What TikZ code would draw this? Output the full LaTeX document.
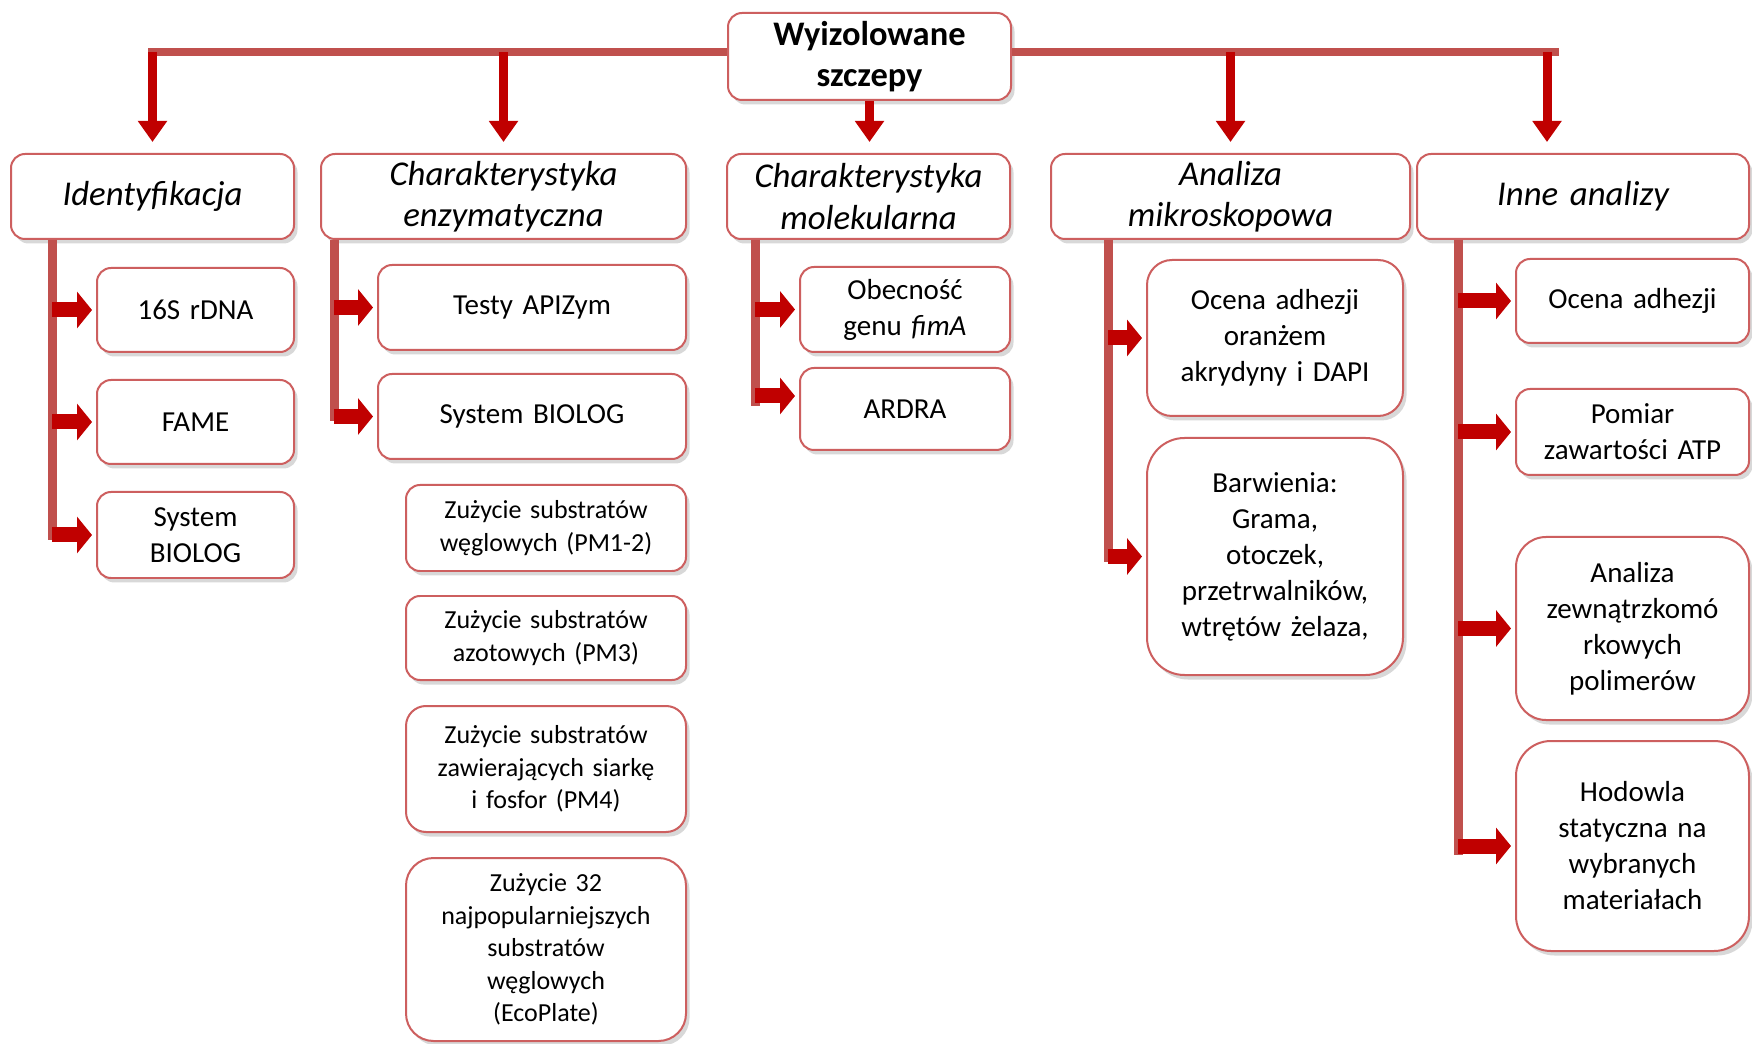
\documentclass[tikz,border=0pt]{standalone}
\usepackage{fontspec}
\setmainfont{Carlito}
\usetikzlibrary{arrows.meta,shadows}
\definecolor{BarRed}{RGB}{192,80,77}
\definecolor{ArrowRed}{RGB}{192,0,0}
\definecolor{EdgeRed}{RGB}{205,95,95}
\tikzset{
  leafbox/.style={draw=EdgeRed,line width=0.04cm,rounded corners=0.28cm,fill=white,
    drop shadow={shadow xshift=0.07cm,shadow yshift=-0.09cm,opacity=0.3},
    inner xsep=0.15cm,inner ysep=0.05cm,align=center,
    font=\fontsize{16.5}{20.5}\selectfont},
  headbox/.style={leafbox,font=\fontsize{19.8}{23.5}\selectfont\itshape},
  rootbox/.style={leafbox,font=\fontsize{19.6}{23.5}\selectfont\bfseries},
  pmbox/.style={leafbox,font=\fontsize{14.8}{18.5}\selectfont},
  topbar/.style={BarRed,line width=0.16cm},
  sidebar/.style={BarRed,line width=0.18cm},
  downarrow/.style={ArrowRed,line width=0.18cm,-{Triangle[width=0.56cm,length=0.42cm]},shorten >=0.22cm},
  sidearrow/.style={ArrowRed,line width=0.30cm,-{Triangle[width=0.72cm,length=0.30cm]},shorten >=0.08cm}
}
\begin{document}
\begin{tikzpicture}
  \useasboundingbox[fill=white] (0,0) rectangle (35.04,-20.88);
  % root and main bar
  \node[rootbox,text width=5.36cm,minimum height=1.74cm] (root) at (17.39,-1.13) {Wyizolowane\\szczepy};
  \coordinate (barL) at (2.96,-1.04);
  \coordinate (barR) at (31.18,-1.04);
  \draw[topbar] (barL) -- (barL -| root.west);
  \draw[topbar] (barR -| root.east) -- (barR);

  % headers
  \node[headbox,text width=5.36cm,minimum height=1.70cm] (ident) at (3.05,-3.93) {Identyfikacja};
  \node[headbox,text width=7.00cm,minimum height=1.70cm] (enzym) at (10.07,-3.93) {Charakterystyka\\enzymatyczna};
  \node[headbox,text width=5.36cm,minimum height=1.70cm] (molek) at (17.37,-3.93) {Charakterystyka\\molekularna};
  \node[headbox,text width=6.88cm,minimum height=1.70cm] (mikro) at (24.61,-3.93) {Analiza\\mikroskopowa};
  \node[headbox,text width=6.34cm,minimum height=1.70cm] (inne) at (31.66,-3.93) {Inne analizy};

  \draw[downarrow] (ident.north |- barL) -- (ident.north);
  \draw[downarrow] (enzym.north |- barL) -- (enzym.north);
  \draw[downarrow] (root.south) -- (root.south |- molek.north);
  \draw[downarrow] (mikro.north |- barL) -- (mikro.north);
  \draw[downarrow] ([xshift=-0.72cm]inne.north |- barL) -- ([xshift=-0.72cm]inne.north);

  % identyfikacja
  \node[leafbox,text width=3.64cm,minimum height=1.68cm] (rdna) at (3.91,-6.20) {16S rDNA};
  \node[leafbox,text width=3.64cm,minimum height=1.68cm] (fame) at (3.91,-8.44) {FAME};
  \node[leafbox,text width=3.64cm,minimum height=1.72cm] (biolog1) at (3.91,-10.70) {System\\BIOLOG};

  % charakterystyka enzymatyczna
  \node[leafbox,text width=5.86cm,minimum height=1.70cm] (apizym) at (10.64,-6.15) {Testy APIZym};
  \node[leafbox,text width=5.86cm,minimum height=1.70cm] (biolog2) at (10.64,-8.33) {System BIOLOG};
  \node[pmbox,text width=5.30cm,minimum height=1.72cm] (pm12) at (10.92,-10.56) {Zużycie substratów\\węglowych (PM1-2)};
  \node[pmbox,text width=5.30cm,minimum height=1.68cm] (pm3) at (10.92,-12.76) {Zużycie substratów\\azotowych (PM3)};
  \node[pmbox,text width=5.30cm,minimum height=2.52cm,rounded corners=0.4cm] (pm4) at (10.92,-15.38) {Zużycie substratów\\zawierających siarkę\\i fosfor (PM4)};
  \node[pmbox,text width=5.30cm,minimum height=3.66cm,rounded corners=0.55cm] (eco) at (10.92,-18.99) {Zużycie 32\\najpopularniejszych\\substratów\\węglowych\\(EcoPlate)};

  % charakterystyka molekularna
  \node[leafbox,text width=3.90cm,minimum height=1.70cm] (fima) at (18.10,-6.19) {Obecność\\genu \textit{fimA}};
  \node[leafbox,text width=3.90cm,minimum height=1.64cm] (ardra) at (18.10,-8.18) {ARDRA};

  % analiza mikroskopowa
  \node[leafbox,text width=4.82cm,minimum height=3.12cm,rounded corners=0.5cm] (adhez1) at (25.50,-6.76) {Ocena adhezji\\oranżem\\akrydyny i DAPI};
  \node[leafbox,text width=4.82cm,minimum height=4.74cm,rounded corners=0.75cm] (barw) at (25.50,-11.13) {Barwienia:\\Grama,\\otoczek,\\przetrwalników,\\wtrętów żelaza,};

  % inne analizy
  \node[leafbox,text width=4.36cm,minimum height=1.68cm] (adhez2) at (32.65,-6.02) {Ocena adhezji};
  \node[leafbox,text width=4.36cm,minimum height=1.72cm] (atp) at (32.65,-8.64) {Pomiar\\zawartości ATP};
  \node[leafbox,text width=4.36cm,minimum height=3.66cm,rounded corners=0.6cm] (eps) at (32.65,-12.57) {Analiza\\zewnątrzkomó\\rkowych\\polimerów};
  \node[leafbox,text width=4.36cm,minimum height=4.20cm,rounded corners=0.7cm] (hodowla) at (32.65,-16.92) {Hodowla\\statyczna na\\wybranych\\materiałach};

  % side bars
  \coordinate (t1) at ([xshift=0.84cm]ident.south west);
  \coordinate (t2) at ([xshift=0.28cm]enzym.south west);
  \coordinate (t3) at ([xshift=0.58cm]molek.south west);
  \coordinate (t4) at ([xshift=1.16cm]mikro.south west);
  \coordinate (t5) at ([xshift=0.84cm]inne.south west);
  \draw[sidebar] (t1) -- ([yshift=-0.1cm]t1 |- biolog1.west);
  \draw[sidebar] (t2) -- ([yshift=-0.1cm]t2 |- biolog2.west);
  \draw[sidebar] (t3) -- ([yshift=0.06cm]t3 |- ardra.west);
  \draw[sidebar] (t4) -- ([yshift=-0.1cm]t4 |- barw.west);
  \draw[sidebar] (t5) -- ([yshift=-0.18cm]t5 |- hodowla.west);
  \foreach \n in {rdna,fame,biolog1}
    \draw[sidearrow] (t1 |- \n.west) -- (\n.west);
  \foreach \n in {apizym,biolog2}
    \draw[sidearrow] (t2 |- \n.west) -- (\n.west);
  \draw[sidearrow] (t3 |- fima.west) -- (fima.west);
  \draw[sidearrow] ([yshift=0.26cm]t3 |- ardra.west) -- ([yshift=0.26cm]ardra.west);
  \foreach \n in {adhez1,barw}
    \draw[sidearrow] (t4 |- \n.west) -- (\n.west);
  \foreach \n in {adhez2,atp,eps,hodowla}
    \draw[sidearrow] (t5 |- \n.west) -- (\n.west);
\end{tikzpicture}
\end{document}
